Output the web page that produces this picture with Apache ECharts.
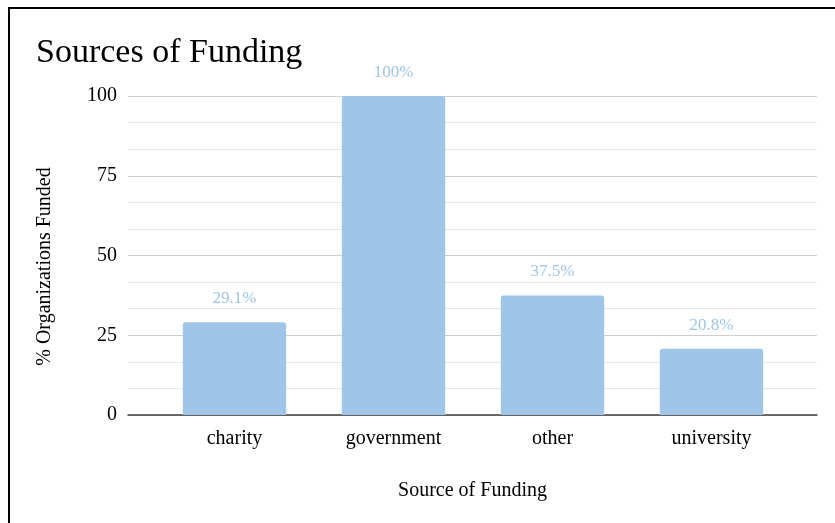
<!DOCTYPE html>
<html>
<head>
<meta charset="utf-8">
<script src="https://cdn.jsdelivr.net/npm/echarts@6/dist/echarts.min.js"></script>
<style>
  html, body { margin: 0; padding: 0; background: #fff; }
  #chart { width: 835px; height: 523px; }
</style>
</head>
<body>
<div id="chart"></div>
<script>
var categories = ['charity', 'government', 'other', 'university'];
var percentFunded = [29.1, 100, 37.5, 20.8];
var valueLabels = ['29.1%', '100%', '37.5%', '20.8%'];

var serif = '"Liberation Serif", "DejaVu Serif", serif';
var barColor = '#9fc5e8';

var chart = echarts.init(document.getElementById('chart'));

var option = {
  backgroundColor: '#fff',
  animation: false,
  title: {
    text: 'Sources of Funding',
    left: 31,
    top: 31,
    textStyle: { fontFamily: serif, fontSize: 34, fontWeight: 'normal', color: '#000' }
  },
  graphic: [
    // frame around the figure (top and left edges visible)
    { type: 'line', shape: { x1: 8, y1: 8, x2: 835, y2: 8 }, style: { stroke: '#000', lineWidth: 2 } },
    { type: 'line', shape: { x1: 9, y1: 7, x2: 9, y2: 523 }, style: { stroke: '#000', lineWidth: 2 } }
  ],
  grid: [
    // gridlines / y ticks
    { left: 128, right: 18, top: 96, bottom: 108 },
    // bars
    { left: 155, right: 44, top: 96, bottom: 108 }
  ],
  xAxis: [
    {
      gridIndex: 0,
      type: 'value',
      min: 0, max: 1,
      axisLine: { show: true, lineStyle: { color: '#404040', width: 1.5 } },
      axisTick: { show: false },
      axisLabel: { show: false },
      splitLine: { show: false },
      name: 'Source of Funding',
      nameLocation: 'middle',
      nameGap: 66,
      nameTextStyle: { fontFamily: serif, fontSize: 20, color: '#000' }
    },
    {
      gridIndex: 1,
      type: 'category',
      data: categories,
      axisLine: { show: false },
      axisTick: { show: false },
      axisLabel: { fontFamily: serif, fontSize: 20, color: '#000', margin: 14 }
    }
  ],
  yAxis: [
    {
      gridIndex: 0,
      type: 'value',
      min: 0, max: 100, interval: 25,
      axisLine: { show: false },
      axisTick: { show: false },
      axisLabel: { fontFamily: serif, fontSize: 20, color: '#000', margin: 11, padding: [3, 0, 0, 0] },
      splitLine: { lineStyle: { color: '#cfcfcf', width: 1.2 } },
      minorTick: { show: false, splitNumber: 3 },
      minorSplitLine: { show: true, lineStyle: { color: '#e6e6e6', width: 1 } },
      name: '% Organizations Funded',
      nameLocation: 'middle',
      nameGap: 73,
      nameTextStyle: { fontFamily: serif, fontSize: 20, color: '#000', padding: [0, 22, 0, 0] }
    },
    {
      gridIndex: 1,
      type: 'value',
      min: 0, max: 100,
      show: false,
      splitLine: { show: false }
    }
  ],
  series: [
    {
      type: 'bar',
      xAxisIndex: 1,
      yAxisIndex: 1,
      data: percentFunded,
      barCategoryGap: '35%',
      itemStyle: { color: barColor, borderRadius: [3, 3, 0, 0] },
      label: {
        show: true,
        position: 'top',
        distance: 15,
        fontFamily: serif,
        fontSize: 17,
        color: '#9fc5e8',
        formatter: function (p) { return valueLabels[p.dataIndex]; }
      }
    }
  ]
};

chart.setOption(option);
</script>
</body>
</html>
